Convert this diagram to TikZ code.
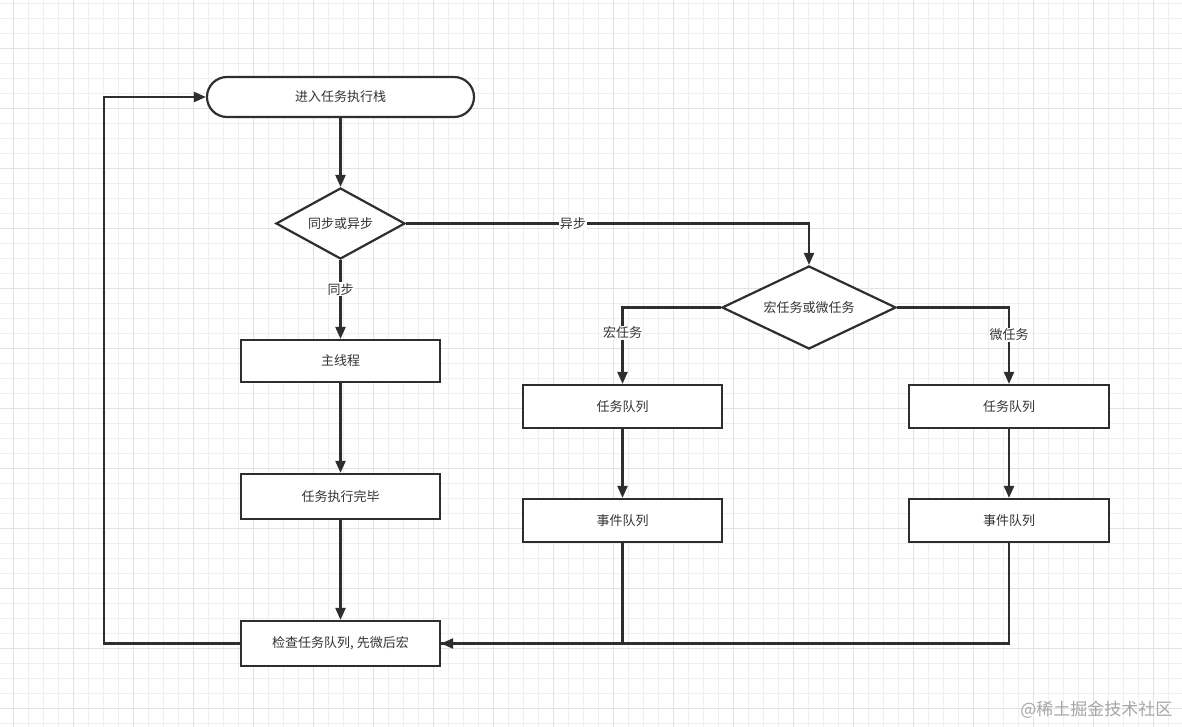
\documentclass[tikz,border=0pt]{standalone}
\usepackage{fontspec}
\setmainfont{Noto Sans CJK SC}
\usetikzlibrary{shapes.geometric,arrows.meta}
\definecolor{ink}{HTML}{2E2E2E}
\definecolor{txt}{HTML}{333333}
\definecolor{gridminor}{HTML}{EFEFEF}
\definecolor{gridmajor}{HTML}{E2E2E2}
\begin{document}
\begin{tikzpicture}[x=1pt,y=-1pt,
  font=\fontsize{13pt}{15pt}\selectfont,
  every node/.style={text=txt},
  box/.style={draw=ink,line width=2.2pt,fill=white,minimum width=199pt,minimum height=43pt,inner sep=0pt},
  term/.style={draw=ink,line width=2.2pt,fill=white,minimum width=267pt,minimum height=40pt,rounded corners=20pt,inner sep=0pt},
  decide/.style={draw=ink,line width=2.2pt,fill=white,diamond,inner sep=0pt},
  conn/.style={draw=ink,line width=2.2pt},
  arr/.style={conn,-{Triangle[length=12pt,width=10pt]}},
  lbl/.style={fill=white,inner sep=1pt,text=txt}
]
\useasboundingbox (0,0) rectangle (1182,727);
\fill[white] (0,0) rectangle (1182,727);
% grid
\foreach \i in {0,...,79} {
  \draw[gridminor,line width=0.8pt] ({13.3+15*\i},0) -- ({13.3+15*\i},727);
}
\foreach \i in {0,...,48} {
  \draw[gridminor,line width=0.8pt] (0,{3.3+15*\i}) -- (1182,{3.3+15*\i});
}
\foreach \i in {0,...,19} {
  \draw[gridmajor,line width=0.8pt] ({13.3+60*\i},0) -- ({13.3+60*\i},727);
}
\foreach \i in {0,...,12} {
  \draw[gridmajor,line width=0.8pt] (0,{48.3+60*\i}) -- (1182,{48.3+60*\i});
}

% nodes
\node[term] (start) at (340.5,97) {进入任务执行栈};
\node[decide,minimum width=129pt,minimum height=71pt,aspect=1.82] (d1) at (340.5,223.5) {同步或异步};
\node[box,minimum height=42pt] (main) at (340.5,361) {主线程};
\node[box,minimum height=45pt] (done) at (340.5,496.5) {任务执行完毕};
\node[box,minimum height=45pt] (check) at (340.5,643.5) {检查任务队列, 先微后宏};
\node[decide,minimum width=174pt,minimum height=83pt,aspect=2.1] (d2) at (809,307.5) {宏任务或微任务};
\node[box] (tq1) at (622.5,406.5) {任务队列};
\node[box] (eq1) at (622.5,520.5) {事件队列};
\node[box,minimum width=200pt] (tq2) at (1009,406.5) {任务队列};
\node[box,minimum width=200pt] (eq2) at (1009,520.5) {事件队列};
\coordinate (loop) at (104,643.5);

% connectors
\draw[arr] (start) -- (d1);
\draw[arr] (d1.south) -- node[lbl,pos=0.37] {同步} (main.north);
\draw[arr] (main) -- (done);
\draw[arr] (done) -- (check);
\draw[arr] (d1.east) -| node[lbl,pos=0.207] {异步} (d2.north);
\draw[arr] (d2.west) -| node[lbl,pos=0.665] {宏任务} (tq1.north);
\draw[arr] (d2.east) -| node[lbl,pos=0.677] {微任务} (tq2.north);
\draw[arr] (tq1) -- (eq1);
\draw[arr] (tq2) -- (eq2);
\draw[conn] (eq1.south) |- (check.east);
\draw[arr] (eq2.south) |- (check.east);
\draw[arr] (check.west) -- (loop) |- (start.west);

% watermark
\node[text=black!35,font=\fontsize{17pt}{19pt}\selectfont,anchor=east] (wm) at (1176,710) {@稀土掘金技术社区};
\end{tikzpicture}
\end{document}
